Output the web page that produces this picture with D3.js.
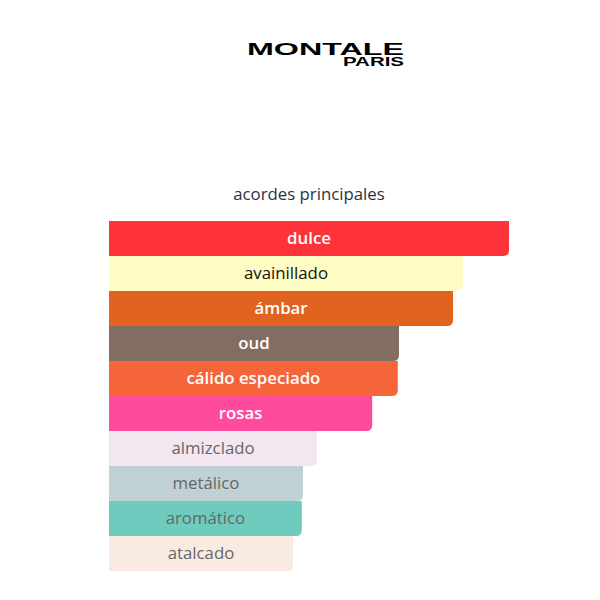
<!DOCTYPE html>
<html><head><meta charset="utf-8">
<script src="https://cdn.jsdelivr.net/npm/d3@7"></script>
<style>body{margin:0;background:#fff;}</style>
</head><body>
<svg id="c" width="600" height="600"></svg>
<script>
const categories = ["dulce","avainillado","ámbar","oud","cálido especiado","rosas","almizclado","metálico","aromático","atalcado"];
const values = [100, 88.5, 86, 72.5, 72.2, 65.8, 52, 48.5, 48.2, 46];
const colors = ["#fe3239","#fffdc3","#e0631f","#826d63","#f6643a","#fe4b9c","#f2e6f1","#bfd1d5","#6fcbbd","#f9ebe2"];
const textColors = ["#ffffff","#111111","#ffffff","#ffffff","#ffffff","#ffffff","#666666","#666666","#666666","#666666"];
const textWeights = [600,400,600,600,600,600,400,400,400,400];

const svg = d3.select("#c");
// logo
svg.append("text").attr("x",247).attr("y",55).attr("textLength",157).attr("lengthAdjust","spacingAndGlyphs")
  .attr("font-family","Liberation Sans, Arial").attr("font-weight",900).attr("font-size",17).attr("fill","#000").text("MONTALE");
svg.append("text").attr("x",343).attr("y",66).attr("textLength",61).attr("lengthAdjust","spacingAndGlyphs")
  .attr("font-family","Liberation Sans, Arial").attr("font-weight",900).attr("font-size",12).attr("fill","#000").text("PARIS");

const x = d3.scaleLinear().domain([0,100]).range([109,509]);
const y = d3.scaleBand().domain(categories).range([221,571]).padding(0);

svg.append("text").attr("x",309).attr("y",200).attr("text-anchor","middle")
  .attr("font-family","Open Sans, Noto Sans, sans-serif").attr("font-size",16.8).attr("fill","#2b323c").text("acordes principales");

const r = 6;
function barPath(d,i){
  const x0 = x(0), x1 = x(values[i]), y0 = y(d), h = y.bandwidth();
  return `M${x0},${y0}H${x1}V${y0+h-r}Q${x1},${y0+h} ${x1-r},${y0+h}H${x0}Z`;
}
const g = svg.append("g");
g.selectAll("path").data(categories).join("path")
  .attr("d",(d,i)=>barPath(d,i)).attr("fill",(d,i)=>colors[i]);
g.selectAll("text").data(categories).join("text")
  .attr("x",(d,i)=>(x(0)+x(values[i]))/2)
  .attr("y",d=>y(d)+y.bandwidth()/2)
  .attr("dy","0.35em").attr("text-anchor","middle")
  .attr("font-family","Open Sans, Noto Sans, sans-serif").attr("font-size",16.8)
  .attr("font-weight",(d,i)=>textWeights[i])
  .attr("fill",(d,i)=>textColors[i]).text(d=>d);
</script>
</body></html>
